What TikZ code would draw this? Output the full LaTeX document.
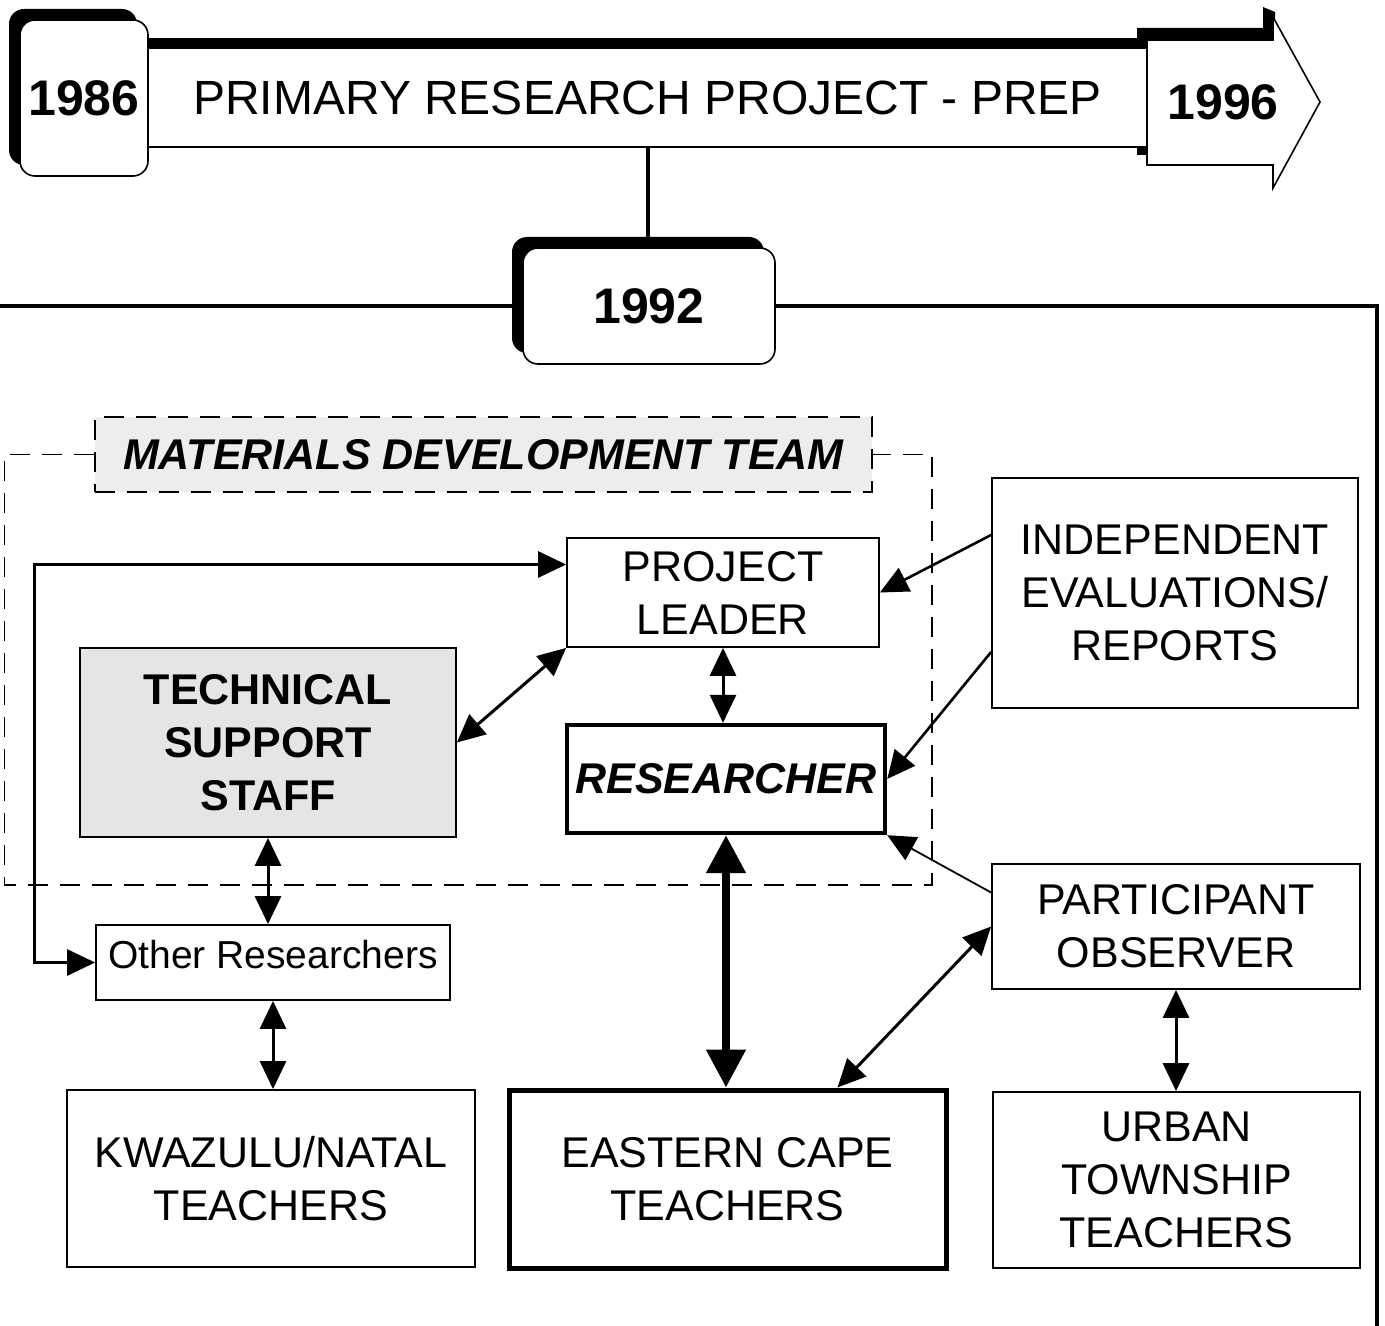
\documentclass[tikz,border=0pt]{standalone}
\usepackage{fontspec}
\setmainfont{Liberation Sans}
\usetikzlibrary{arrows.meta,shadows}

\begin{document}
\begin{tikzpicture}[x=0.5pt, y=-0.5pt,
    >={Triangle[length=14pt,width=13pt]},
    box/.style={draw, line width=0.9pt, fill=white, align=center, inner sep=0pt,
        font=\fontsize{21.5}{26.5}\selectfont},
    heavybox/.style={box, line width=2.2pt},
    yearbox/.style={draw, line width=0.8pt, fill=white, rounded corners=7.5pt,
        inner sep=0pt, font=\fontsize{25}{30}\selectfont\bfseries,
        drop shadow={shadow xshift=-5.5pt, shadow yshift=5.5pt, fill=black, opacity=1}},
    team/.style={draw, dash pattern=on 10pt off 6pt, line width=0.6pt},
    link/.style={<->, line width=1.5pt},
    feed/.style={->, line width=1.3pt},
    frame/.style={line width=2pt}]
    \useasboundingbox (0,0) rectangle (1385,1326);

    %% the time line on top
    \fill (1137,28) -- (1263,28) -- (1263,7) -- (1275,12) -- (1275,155) -- (1137,155) -- cycle;
    \node[draw, line width=0.8pt, fill=white, minimum width=499.5pt, minimum height=49.5pt,
        font=\fontsize{24}{28}\selectfont,
        drop shadow={shadow xshift=-5pt, shadow yshift=5pt, fill=black, opacity=1}]
        (prep) at (647.5,97.5) {PRIMARY RESEARCH PROJECT - PREP};
    \draw[line width=0.8pt, fill=white] (1147,40) -- (1273,40) -- (1273,17) -- (1320,102)
        -- (1273,188) -- (1273,165) -- (1147,165) -- cycle;
    \node[font=\fontsize{25}{30}\selectfont\bfseries] (y96) at (1223,102) {1996};
    \node[yearbox, minimum width=64pt, minimum height=78pt] (y86) at (84,98) {1986};
    \node[yearbox, minimum width=126pt, minimum height=58pt] (y92) at (649,306) {1992};

    \coordinate (fl) at (0,306);
    \coordinate (fb) at (1377,1326);
    \draw[frame] (prep.south) -- (prep.south |- y92.north);
    \draw[frame] (fl) -- (y92.west);
    \draw[frame] (y92.east) -| (fb);

    %% materials development team
    \node[team, fill=black!7, minimum width=388.5pt, minimum height=37.5pt,
        font=\fontsize{21.5}{26}\selectfont\bfseries\itshape] (mdt) at (483.5,454.5)
        {MATERIALS DEVELOPMENT TEAM};
    \draw[team] (mdt.west) -- ++(-90,0) |- (932,885) |- (mdt.east);

    \node[box, minimum width=156pt, minimum height=54.5pt] (lead) at (723,592.5) {PROJECT\\LEADER};
    \node[box, fill=black!10, minimum width=188pt, minimum height=94.5pt,
        font=\fontsize{21.5}{26.5}\selectfont\bfseries] (tech) at (268,742.5) {TECHNICAL\\SUPPORT\\STAFF};
    \node[heavybox, minimum width=159pt, minimum height=54pt,
        font=\fontsize{21.5}{26.5}\selectfont\bfseries\itshape] (res) at (726,779) {RESEARCHER};
    \node[box, minimum width=183pt, minimum height=115pt] (indep) at (1175,593) {INDEPENDENT\\EVALUATIONS/\\REPORTS};
    \node[box, minimum width=184pt, minimum height=62.5pt] (part) at (1176,926.5) {PARTICIPANT\\OBSERVER};
    \node[box, minimum width=177pt, minimum height=37.5pt, text depth=8pt,
        font=\fontsize{19.5}{23}\selectfont] (other) at (273,962.5) {Other Researchers};
    \node[box, minimum width=204pt, minimum height=88.5pt] (kzn) at (271,1178.5) {KWAZULU/NATAL\\TEACHERS};
    \node[heavybox, line width=2.5pt, minimum width=218.5pt, minimum height=89pt] (ec) at (727.5,1179) {EASTERN CAPE\\TEACHERS};
    \node[box, minimum width=183.5pt, minimum height=88pt] (urban) at (1176.5,1180) {URBAN\\TOWNSHIP\\TEACHERS};

    \draw[link] (other.west) -- ++(-61,0) |- ([yshift=14pt]lead.west);
    \draw[link] (lead.south west) -- (tech.east);
    \draw[link] (lead.south) -- (lead.south |- res.north);
    \draw[feed] ([yshift=29pt]indep.west) -- (lead.east);
    \draw[feed] ([yshift=-29.5pt]indep.west) -- (res.east);
    \draw[feed, line width=0.9pt] ([yshift=17pt]part.west) -- (res.south east);
    \draw[link, line width=4pt, >={Triangle[length=19pt,width=19pt]}] (res.south) -- (res.south |- ec.north);
    \draw[link] (part.west) -- ([xshift=55pt]ec.north);
    \draw[link] (part.south) -- (part.south |- urban.north);
    \draw[link] (tech.south) -- (tech.south |- other.north);
    \draw[link] (other.south) -- (other.south |- kzn.north);
\end{tikzpicture}
\end{document}
